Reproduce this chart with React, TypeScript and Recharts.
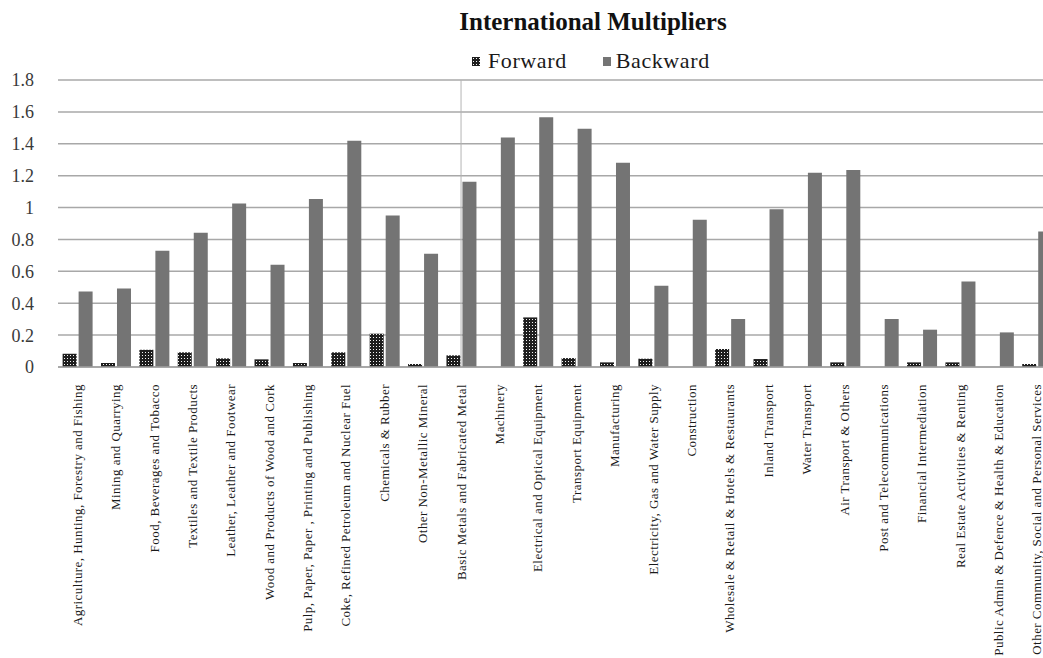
import { Bar, BarChart, CartesianGrid, ReferenceLine, XAxis, YAxis } from "recharts";

const categories = [
  "Agriculture, Hunting, Forestry and Fishing",
  "Mining and Quarrying",
  "Food, Beverages and Tobacco",
  "Textiles and Textile Products",
  "Leather, Leather and Footwear",
  "Wood and Products of Wood and Cork",
  "Pulp, Paper, Paper , Printing and Publishing",
  "Coke, Refined Petroleum and Nuclear Fuel",
  "Chemicals & Rubber",
  "Other Non-Metallic  Mineral",
  "Basic Metals and Fabricated Metal",
  "Machinery",
  "Electrical and Optical Equipment",
  "Transport Equipment",
  "Manufacturing",
  "Electricity, Gas and Water  Supply",
  "Construction",
  "Wholesale & Retail & Hotels & Restaurants",
  "Inland Transport",
  "Water Transport",
  "Air Transport & Others",
  "Post and Telecommunications",
  "Financial Intermediation",
  "Real Estate Activities & Renting",
  "Public Admin & Defence & Health & Education",
  "Other Community, Social and Personal Services",
];

const forward = [
  0.083, 0.025, 0.108, 0.092, 0.054, 0.048, 0.025, 0.092, 0.209, 0.019, 0.073, 0, 0.311,
  0.056, 0.029, 0.052, 0, 0.113, 0.05, 0, 0.029, 0, 0.029, 0.029, 0, 0.019,
];

const backward = [
  0.474, 0.493, 0.729, 0.842, 1.026, 0.641, 1.053, 1.419, 0.95, 0.71, 1.162, 1.44, 1.567,
  1.494, 1.281, 0.51, 0.923, 0.301, 0.99, 1.218, 1.235, 0.301, 0.234, 0.537, 0.217, 0.85,
];

const yTicks = [0, 0.2, 0.4, 0.6, 0.8, 1, 1.2, 1.4, 1.6, 1.8];

const data = categories.map((name, i) => ({
  name,
  forward: forward[i],
  backward: backward[i],
}));

const SERIF = '"Liberation Serif", "Times New Roman", serif';
const BACK_FILL = "#747474";

// sector names run bottom-to-top, ending just under the axis
function CategoryTick(props: any) {
  const { x, y, payload } = props;
  return (
    <text
      x={x}
      y={y}
      transform={`rotate(-90 ${x} ${y})`}
      textAnchor="end"
      dy="0.35em"
      fontSize={13}
      letterSpacing={0.45}
      fontFamily={SERIF}
      fill="#1a1a1a"
    >
      {payload.value}
    </text>
  );
}

function LegendSwatch({ fill }: { fill: string }) {
  return (
    <svg width={8} height={9} style={{ display: "block" }}>
      <defs>
        <pattern id="legendDots" width="3" height="3" patternUnits="userSpaceOnUse">
          <rect width="3" height="3" fill="#1e1e1e" />
          <rect x="1" y="1" width="1" height="1" fill="#f4f4f4" />
        </pattern>
      </defs>
      <rect width={8} height={9} fill={fill} />
    </svg>
  );
}

export default function App() {
  return (
    <div
      style={{
        position: "absolute",
        left: 0,
        top: 0,
        width: 1043,
        height: 658,
        overflow: "hidden",
        background: "#fff",
        fontFamily: SERIF,
      }}
    >
      <div
        style={{
          position: "absolute",
          left: 0,
          top: 9,
          width: 1186,
          textAlign: "center",
          fontSize: 25,
          lineHeight: "25px",
          fontWeight: 700,
          color: "#111",
        }}
      >
        International Multipliers
      </div>

      <div
        style={{
          position: "absolute",
          left: 472,
          top: 50,
          display: "flex",
          alignItems: "center",
          fontSize: 22,
          lineHeight: "22px",
          letterSpacing: 0.6,
          color: "#1a1a1a",
        }}
      >
        <LegendSwatch fill="url(#legendDots)" />
        <span style={{ marginLeft: 8 }}>Forward</span>
        <span style={{ marginLeft: 36 }}>
          <LegendSwatch fill={BACK_FILL} />
        </span>
        <span style={{ marginLeft: 5 }}>Backward</span>
      </div>

      <BarChart
        width={1060}
        height={658}
        data={data}
        margin={{ top: 80, right: 4, left: 0, bottom: 11 }}
        barCategoryGap="12%"
        barGap={2}
      >
        <defs>
          <pattern id="forwardDots" width="3" height="3" patternUnits="userSpaceOnUse">
            <rect width="3" height="3" fill="#1e1e1e" />
            <rect x="1" y="1" width="1" height="1" fill="#f4f4f4" />
          </pattern>
        </defs>
        <CartesianGrid vertical={false} stroke="#a8a8a8" strokeWidth={1.5} />
        <XAxis
          dataKey="name"
          interval={0}
          height={280}
          tickLine={false}
          tickSize={0}
          tickMargin={17}
          axisLine={{ stroke: "#a0a0a0", strokeWidth: 1.5 }}
          tick={<CategoryTick />}
        />
        <YAxis
          width={58}
          domain={[0, 1.8]}
          ticks={yTicks}
          axisLine={false}
          tickLine={false}
          tickSize={0}
          tickMargin={24}
          tick={{ fontSize: 18, fontFamily: SERIF, fill: "#3a3a3a" }}
        />
        <ReferenceLine x={categories[10]} stroke="#b4b4b4" strokeWidth={1} />
        <Bar dataKey="forward" fill="url(#forwardDots)" isAnimationActive={false} />
        <Bar dataKey="backward" fill={BACK_FILL} isAnimationActive={false} />
      </BarChart>
    </div>
  );
}
